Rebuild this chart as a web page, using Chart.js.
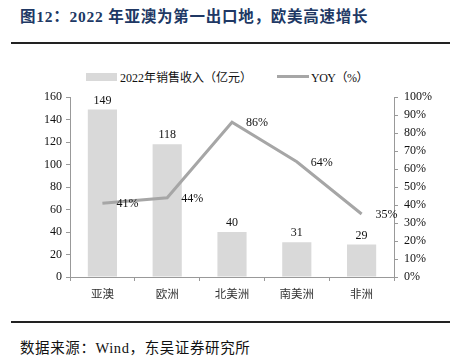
<!DOCTYPE html>
<html><head><meta charset="utf-8">
<script src="https://cdn.jsdelivr.net/npm/chart.js@4.4.0/dist/chart.umd.min.js"></script>
<style>
body{margin:0;width:455px;height:360px;background:#fff;position:relative;overflow:hidden;font-family:"Liberation Serif","Noto Sans CJK SC",serif;}
#title{position:absolute;left:20px;top:4px;font-size:15.5px;letter-spacing:0.75px;font-weight:bold;color:#203864;white-space:nowrap;font-family:"Liberation Serif","Noto Sans CJK SC",serif;}
.rule{position:absolute;left:11px;width:439px;height:2px;background:#222;}
#src{position:absolute;left:20px;top:336px;font-size:14.5px;letter-spacing:0.6px;color:#111;white-space:nowrap;}
#legend{position:absolute;top:68px;left:0;width:455px;height:16px;font-size:12px;color:#111;}
#legend span{position:absolute;white-space:nowrap;}
#cv{position:absolute;left:0;top:60px;}
</style></head><body>
<div id="title">图12：2022 年亚澳为第一出口地，欧美高速增长</div>
<div class="rule" style="top:42px"></div>
<div id="legend">
 <div style="position:absolute;left:86px;top:5px;width:31px;height:8px;background:#D9D9D9"></div>
 <span style="left:120px;top:0">2022年销售收入（亿元）</span>
 <div style="position:absolute;left:277px;top:7px;width:32px;height:3px;background:#A6A6A6"></div>
 <span style="left:311px;top:0;letter-spacing:-0.5px">YOY（%）</span>
</div>
<canvas id="cv" width="455" height="250"></canvas>
<div class="rule" style="top:321px"></div>
<div id="src">数据来源：Wind，东吴证券研究所</div>
<script>
const categories = ["亚澳","欧洲","北美洲","南美洲","非洲"];
const revenue = [149,118,40,31,29];
const yoy = [41,44,86,64,35];
const leftTicks = [0,20,40,60,80,100,120,140,160];
const rightTicks = [0,10,20,30,40,50,60,70,80,90,100];

const FONT = {family:'"Liberation Serif","Noto Sans CJK SC",serif', size:12};
const labelPlugin = {
  id:'labels',
  afterDatasetsDraw(chart){
    const ctx = chart.ctx;
    ctx.save();
    ctx.font = '12px "Liberation Serif","Noto Sans CJK SC",serif';
    ctx.fillStyle = '#111';
    const m0 = chart.getDatasetMeta(0);
    m0.data.forEach((b,i)=>{
      ctx.textAlign='center'; ctx.textBaseline='bottom';
      ctx.fillText(String(revenue[i]), b.x, b.y-3);
    });
    const m1 = chart.getDatasetMeta(1);
    m1.data.forEach((p,i)=>{
      ctx.textAlign='left'; ctx.textBaseline='middle';
      ctx.fillText(yoy[i]+'%', p.x+14, p.y+1);
    });
    ctx.restore();
  }
};

new Chart(document.getElementById('cv'),{
  data:{
    labels:categories,
    datasets:[
      {type:'bar',data:revenue,backgroundColor:'#D9D9D9',yAxisID:'y',categoryPercentage:1,barPercentage:0.45,order:2},
      {type:'line',data:yoy,borderColor:'#A6A6A6',borderWidth:3,pointRadius:0,yAxisID:'y1',tension:0,order:1}
    ]
  },
  options:{
    responsive:false,animation:false,
    layout:{padding:{top:37,left:0,right:0,bottom:0}},
    plugins:{legend:{display:false},tooltip:{enabled:false}},
    scales:{
      x:{
        grid:{display:true,drawOnChartArea:false,offset:true,tickLength:4,color:'#999'},
        border:{color:'#999'},
        ticks:{font:{family:'"Noto Sans CJK SC",sans-serif',size:11.5},color:'#333',padding:6},
        afterFit(s){s.height=33;}
      },
      y:{
        position:'left',min:0,max:160,
        afterBuildTicks(s){s.ticks=leftTicks.map(v=>({value:v}));},
        grid:{drawOnChartArea:false,tickLength:4,color:'#999'},
        border:{color:'#999'},
        ticks:{font:FONT,color:'#111',padding:4},
        afterFit(s){s.width=70;}
      },
      y1:{
        position:'right',min:0,max:100,
        afterBuildTicks(s){s.ticks=rightTicks.map(v=>({value:v}));},
        grid:{drawOnChartArea:false,tickLength:4,color:'#999'},
        border:{color:'#999'},
        ticks:{font:FONT,color:'#111',padding:6,callback:v=>v+'%'},
        afterFit(s){s.width=61;}
      }
    }
  },
  plugins:[labelPlugin]
});
</script>
</body></html>
